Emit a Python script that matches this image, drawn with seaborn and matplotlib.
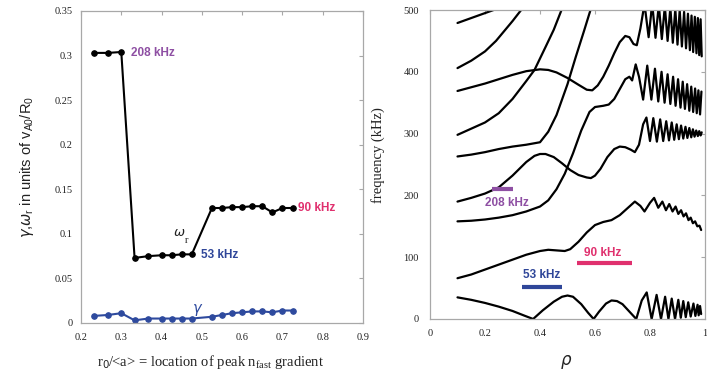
import numpy as np
import pandas as pd
import matplotlib
matplotlib.use("Agg")
import matplotlib.pyplot as plt
import seaborn as sns

# ---------------- left panel: growth rate / real frequency ----------------
r0 = [0.233, 0.267, 0.300, 0.333, 0.367, 0.400, 0.425, 0.450, 0.475,
      0.525, 0.550, 0.575, 0.600, 0.625, 0.650, 0.675, 0.700, 0.725]
omega_r = [0.303, 0.303, 0.304, 0.073, 0.075, 0.076, 0.076, 0.077, 0.077,
           0.129, 0.129, 0.130, 0.130, 0.131, 0.131, 0.124, 0.129, 0.129]
gamma = [0.008, 0.009, 0.011, 0.003, 0.005, 0.005, 0.005, 0.005, 0.005,
         0.007, 0.009, 0.011, 0.012, 0.013, 0.013, 0.012, 0.014, 0.014]

left_xticks = [0.2, 0.3, 0.4, 0.5, 0.6, 0.7, 0.8, 0.9]
left_xlabels = ["0.2", "0.3", "0.4", "0.5", "0.6", "0.7", "0.8", "0.9"]
left_yticks = [0, 0.05, 0.1, 0.15, 0.2, 0.25, 0.3, 0.35]
left_ylabels = ["0", "0.05", "0.1", "0.15", "0.2", "0.25", "0.3", "0.35"]

# ---------------- right panel: continuum curves (rho, kHz) ----------------
curve_a_rho = [0.10, 0.15, 0.20, 0.25, 0.30, 0.34, 0.375, 0.41, 0.45, 0.48, 0.50, 0.52,
               0.55, 0.575, 0.595, 0.615, 0.64, 0.66, 0.68, 0.70, 0.725, 0.75,
               0.77, 0.788, 0.806, 0.824, 0.84, 0.855, 0.867, 0.879, 0.891, 0.903,
               0.912, 0.921, 0.93, 0.939, 0.948, 0.958, 0.965, 0.973, 0.977, 0.982, 0.986]
curve_a_f = [35, 31, 26, 20, 13, 6, 0, 14, 28, 36, 38, 36,
             24, 10, 0, 12, 25, 30, 29, 24, 12, 0,
             30, 43, 0, 39, 0, 36, 0, 33, 0, 31,
             2, 29, 3, 27, 4, 25, 5, 23, 6, 21, 8]

curve_b_rho = [0.10, 0.15, 0.20, 0.25, 0.30, 0.35, 0.40, 0.43, 0.46, 0.49, 0.51, 0.54,
               0.57, 0.60, 0.63, 0.66, 0.69, 0.72, 0.745, 0.765, 0.78, 0.80, 0.815,
               0.83, 0.845, 0.858, 0.87, 0.882, 0.893, 0.903, 0.913, 0.922, 0.931,
               0.94, 0.948, 0.956, 0.964, 0.972, 0.98, 0.986]
curve_b_f = [66, 72, 80, 88, 96, 104, 110, 112, 111, 110, 113, 125,
             140, 152, 157, 160, 168, 180, 190, 183, 174, 188, 196,
             180, 190, 176, 186, 174, 182, 170, 176, 166, 171,
             160, 164, 155, 158, 150, 151, 144]

curve_c_rho = [0.10, 0.15, 0.20, 0.25, 0.30, 0.35, 0.40, 0.43, 0.46, 0.49, 0.52, 0.55,
               0.58, 0.60, 0.63, 0.65, 0.67, 0.69, 0.71, 0.725, 0.735, 0.748, 0.76,
               0.775, 0.79, 0.805, 0.818, 0.83, 0.842, 0.853, 0.864, 0.874, 0.884,
               0.893, 0.902, 0.911, 0.919, 0.927, 0.935, 0.943, 0.95, 0.957, 0.964,
               0.97, 0.976, 0.982, 0.987]
curve_c_f = [158, 159, 161, 164, 168, 174, 182, 192, 210, 235, 268, 305,
             335, 343, 345, 347, 356, 372, 388, 392, 386, 412, 392,
             355, 410, 355, 405, 352, 400, 350, 396, 348, 392,
             345, 388, 342, 384, 340, 380, 337, 376, 335, 373,
             333, 370, 331, 368]

curve_d_rho = [0.10, 0.15, 0.20, 0.25, 0.30, 0.35, 0.38, 0.40, 0.42, 0.45, 0.48, 0.51,
               0.54, 0.57, 0.585, 0.60, 0.62, 0.645, 0.67, 0.69, 0.71, 0.73, 0.745,
               0.76, 0.775, 0.787, 0.80, 0.812, 0.825, 0.837, 0.848, 0.859, 0.869,
               0.879, 0.888, 0.897, 0.905, 0.913, 0.921, 0.929, 0.936, 0.943, 0.95,
               0.956, 0.962, 0.968, 0.974, 0.979, 0.984, 0.988]
curve_d_f = [190, 196, 203, 213, 232, 254, 264, 267, 267, 262, 252, 241,
             233, 229, 228, 232, 243, 262, 275, 279, 278, 274, 270,
             282, 315, 326, 288, 325, 287, 323, 288, 320, 289,
             318, 290, 315, 291, 313, 292, 311, 293, 309, 294,
             307, 295, 305, 296, 304, 297, 302]

curve_e_rho = [0.10, 0.15, 0.20, 0.25, 0.30, 0.35, 0.40, 0.43, 0.46, 0.50, 0.53, 0.56, 0.585]
curve_e_f = [263, 266, 270, 275, 279, 282, 286, 303, 330, 380, 424, 466, 502]

curve_e2_rho = [0.10, 0.15, 0.20, 0.25, 0.30, 0.35, 0.38, 0.42, 0.45, 0.48]
curve_e2_f = [298, 308, 318, 333, 356, 385, 403, 440, 468, 502]

curve_f_rho = [0.10, 0.15, 0.20, 0.25, 0.30, 0.35, 0.40, 0.43, 0.46, 0.50, 0.54, 0.57,
               0.59, 0.61, 0.63, 0.65, 0.67, 0.69, 0.71, 0.725, 0.74, 0.752, 0.765,
               0.78, 0.795, 0.808, 0.82, 0.832, 0.843, 0.854, 0.864, 0.874, 0.883,
               0.892, 0.90, 0.908, 0.916, 0.924, 0.931, 0.938, 0.945, 0.951, 0.957,
               0.963, 0.969, 0.974, 0.979, 0.984, 0.988]
curve_f_f = [369, 375, 381, 388, 395, 401, 404, 403, 399, 390, 379, 371,
             370, 378, 392, 410, 430, 448, 458, 456, 445, 443, 470,
             510, 456, 510, 455, 508, 453, 506, 450, 504, 447,
             502, 444, 500, 441, 497, 438, 494, 435, 491, 432,
             489, 430, 487, 427, 485, 425]

curve_g_rho = [0.10, 0.15, 0.20, 0.24, 0.30, 0.335]
curve_g_f = [406, 418, 433, 450, 482, 502]

curve_h_rho = [0.10, 0.15, 0.20, 0.25]
curve_h_f = [479, 487, 495, 503]

curves = {
    "A": (curve_a_rho, curve_a_f), "B": (curve_b_rho, curve_b_f),
    "C": (curve_c_rho, curve_c_f), "D": (curve_d_rho, curve_d_f),
    "E": (curve_e_rho, curve_e_f), "E2": (curve_e2_rho, curve_e2_f),
    "F": (curve_f_rho, curve_f_f), "G": (curve_g_rho, curve_g_f),
    "H": (curve_h_rho, curve_h_f),
}

# frequency bands marked on the continuum plot
band_labels = ["208 kHz", "53 kHz", "90 kHz"]
band_rho = [(0.224, 0.303), (0.333, 0.479), (0.536, 0.733)]
band_f = [210, 52, 90]
band_text_pos = [(0.28, 188), (0.406, 71), (0.628, 107)]
band_colors = ["#8e4fa3", "#2f4699", "#e0306e"]

right_xticks = [0, 0.2, 0.4, 0.6, 0.8, 1.0]
right_xlabels = ["0", "0.2", "0.4", "0.6", "0.8", "1"]
right_yticks = [0, 100, 200, 300, 400, 500]

# ---------------- style ----------------
sns.set_theme(style="white")
plt.rcParams["font.family"] = ["Liberation Serif", "DejaVu Serif"]
spine_col = "#a8a8a8"
txt_col = "#222222"

fig = plt.figure(figsize=(7.07, 3.77), dpi=100)
ax1 = fig.add_axes([81 / 707, 1 - 323 / 377, 282 / 707, 312 / 377])
ax2 = fig.add_axes([430 / 707, 1 - 319 / 377, 275 / 707, 309 / 377])

for ax in (ax1, ax2):
    for s in ax.spines.values():
        s.set_color(spine_col)
        s.set_linewidth(0.9)
    ax.tick_params(direction="in", length=3, width=0.8, color=spine_col,
                   top=True, right=True, labelsize=7.5, labelcolor=txt_col)

# ---- left ----
df_left = pd.DataFrame({"r0": r0, "omega": omega_r, "gamma": gamma})
sns.lineplot(data=df_left, x="r0", y="omega", ax=ax1, color="black", lw=1.5,
             marker="o", markersize=4, markeredgecolor="black", estimator=None)
sns.lineplot(data=df_left, x="r0", y="gamma", ax=ax1, color="#2e4a9e", lw=1.5,
             marker="o", markersize=4, markeredgecolor="#2e4a9e", estimator=None)
ax1.set_xlim(0.2, 0.9)
ax1.set_ylim(0, 0.35)
ax1.set_xticks(left_xticks, left_xlabels)
ax1.set_yticks(left_yticks, left_ylabels)
ax1.tick_params(axis="x", pad=7)
ax1.tick_params(axis="y", pad=6)

ax1.set_xlabel(r"r$_0$/<a> = location of peak n$_{\mathregular{fast}}$ gradient",
               fontsize=10.5, color=txt_col)
ax1.xaxis.set_label_coords(0.46, -0.095)
ax1.set_ylabel(r"$\gamma$,$\omega_{\mathregular{r}}$ in units of v$_{\mathregular{A0}}$/R$_{\mathregular{0}}$",
               fontsize=10.5, color=txt_col, family=["Liberation Sans", "DejaVu Sans"])
ax1.yaxis.set_label_coords(-0.16, 0.5)

bold_sans = dict(fontsize=8.5, fontweight="bold", family=["Liberation Sans", "DejaVu Sans"])
ax1.text(0.325, 0.303, "208 kHz", color=band_colors[0], va="center", ha="left", **bold_sans)
ax1.text(0.498, 0.076, "53 kHz", color=band_colors[1], va="center", ha="left", **bold_sans)
ax1.text(0.739, 0.1286, "90 kHz", color=band_colors[2], va="center", ha="left", **bold_sans)
ax1.text(0.444, 0.1005, r"$\omega$", fontsize=9.5, ha="center", va="center", color=txt_col)
ax1.text(0.462, 0.092, "r", fontsize=7.5, ha="center", va="center", color=txt_col)
ax1.text(0.49, 0.0145, r"$\gamma$", fontsize=10.5, ha="center", va="center", color="#2e4a9e")

# ---- right ----
for name, (xs, ys) in curves.items():
    sns.lineplot(x=xs, y=ys, ax=ax2, color="black", lw=1.6, sort=False, estimator=None)
for lab, (x0, x1), f, (tx, ty), col in zip(band_labels, band_rho, band_f, band_text_pos, band_colors):
    ax2.plot([x0, x1], [f, f], color=col, lw=3, solid_capstyle="butt")
    ax2.text(tx, ty, lab, color=col, ha="center", va="center", **bold_sans)

ax2.set_xlim(0, 1)
ax2.set_ylim(0, 500)
ax2.set_xticks(right_xticks, right_xlabels)
ax2.set_yticks(right_yticks)
ax2.tick_params(axis="x", pad=7)
ax2.tick_params(axis="y", pad=8)
ax2.set_xlabel(r"$\rho$", fontsize=12, color=txt_col)
ax2.xaxis.set_label_coords(0.497, -0.11)
ax2.set_ylabel("frequency (kHz)", fontsize=10.5, color=txt_col)
ax2.yaxis.set_label_coords(-0.165, 0.53)

fig.savefig("out.png", dpi=100)
